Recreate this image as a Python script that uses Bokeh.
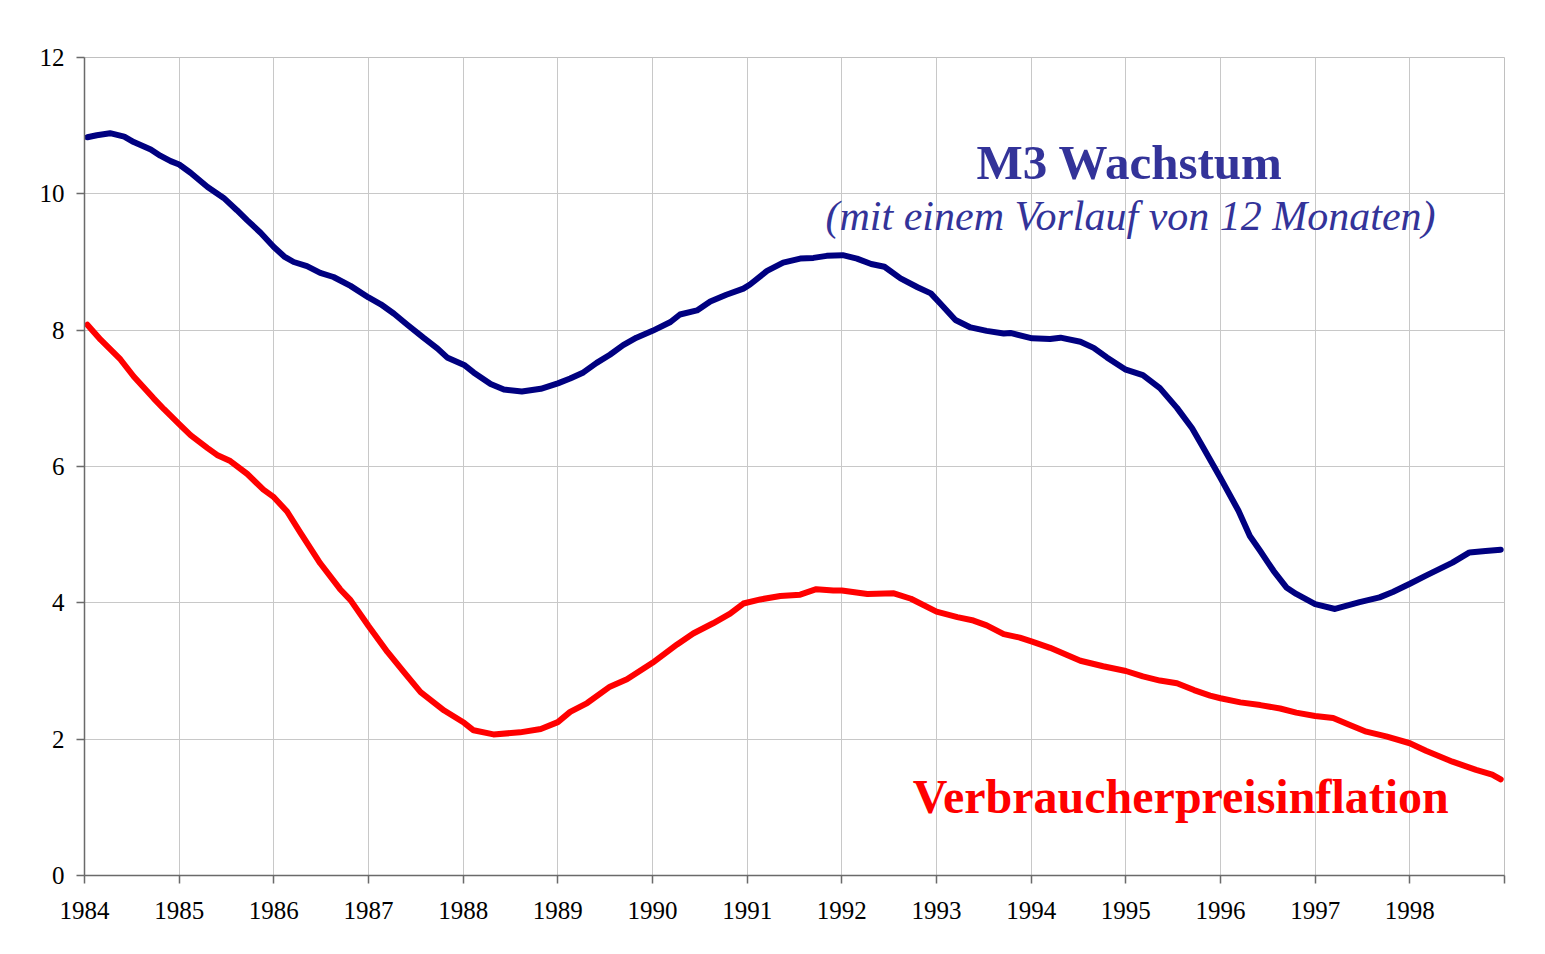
from bokeh.plotting import figure
from bokeh.models import Range1d, FixedTicker, Label
from bokeh.embed import file_html
from bokeh.resources import INLINE

# --- data ---
m3_years = [1984.03, 1984.13, 1984.27, 1984.42, 1984.52, 1984.70, 1984.80, 1984.91,
            1985.00, 1985.12, 1985.30, 1985.47, 1985.61, 1985.72, 1985.86,
            1986.00, 1986.11, 1986.21, 1986.35, 1986.49, 1986.63, 1986.81,
            1987.00, 1987.13, 1987.27, 1987.41, 1987.58, 1987.73, 1987.83,
            1988.01, 1988.11, 1988.29, 1988.43, 1988.62, 1988.82,
            1989.00, 1989.13, 1989.27, 1989.41, 1989.55, 1989.69, 1989.83,
            1990.00, 1990.19, 1990.29, 1990.47, 1990.61, 1990.78, 1990.96,
            1991.03, 1991.21, 1991.38, 1991.56, 1991.70, 1991.84,
            1992.01, 1992.16, 1992.31, 1992.45, 1992.62, 1992.80, 1992.94,
            1993.04, 1993.20, 1993.36, 1993.53, 1993.71, 1993.78,
            1994.01, 1994.20, 1994.31, 1994.52, 1994.66, 1994.80,
            1995.00, 1995.18, 1995.36, 1995.54, 1995.70, 1995.82,
            1996.00, 1996.19, 1996.31, 1996.42, 1996.56, 1996.70, 1996.80,
            1997.00, 1997.21, 1997.47, 1997.68, 1997.82,
            1998.00, 1998.17, 1998.45, 1998.63, 1998.80, 1998.96]
m3_values = [10.83, 10.86, 10.89, 10.84, 10.76, 10.65, 10.56, 10.48,
             10.43, 10.31, 10.10, 9.94, 9.76, 9.61, 9.43,
             9.22, 9.08, 9.00, 8.94, 8.84, 8.78, 8.65,
             8.48, 8.38, 8.24, 8.08, 7.89, 7.73, 7.60,
             7.49, 7.38, 7.21, 7.13, 7.10, 7.14,
             7.22, 7.29, 7.38, 7.52, 7.64, 7.78, 7.89,
             7.99, 8.12, 8.23, 8.29, 8.42, 8.52, 8.61,
             8.67, 8.87, 8.99, 9.05, 9.06, 9.09,
             9.10, 9.05, 8.97, 8.93, 8.76, 8.63, 8.54,
             8.39, 8.15, 8.04, 7.99, 7.95, 7.96,
             7.88, 7.87, 7.89, 7.83, 7.74, 7.60,
             7.42, 7.34, 7.15, 6.86, 6.56, 6.27,
             5.83, 5.35, 4.98, 4.76, 4.47, 4.22, 4.13,
             3.98, 3.91, 4.01, 4.08, 4.16,
             4.28, 4.40, 4.59, 4.74, 4.76, 4.78]

cpi_years = [1984.03, 1984.17, 1984.38, 1984.52, 1984.73, 1984.84,
             1985.00, 1985.12, 1985.30, 1985.40, 1985.54, 1985.72, 1985.89,
             1986.00, 1986.14, 1986.28, 1986.49, 1986.70, 1986.81,
             1987.00, 1987.20, 1987.37, 1987.55, 1987.80,
             1988.01, 1988.11, 1988.32, 1988.60, 1988.82,
             1989.00, 1989.13, 1989.31, 1989.55, 1989.73,
             1990.00, 1990.26, 1990.43, 1990.64, 1990.82, 1990.96,
             1991.14, 1991.35, 1991.56, 1991.73, 1991.91,
             1992.00, 1992.27, 1992.55, 1992.73,
             1993.00, 1993.22, 1993.39, 1993.53, 1993.71, 1993.88,
             1994.01, 1994.20, 1994.52, 1994.76,
             1995.00, 1995.18, 1995.36, 1995.54, 1995.72, 1995.89,
             1996.00, 1996.21, 1996.42, 1996.63, 1996.80,
             1997.00, 1997.19, 1997.36, 1997.54, 1997.75,
             1998.00, 1998.17, 1998.45, 1998.70, 1998.87, 1998.96]
cpi_values = [8.08, 7.86, 7.57, 7.32, 7.00, 6.84,
              6.62, 6.46, 6.27, 6.17, 6.08, 5.89, 5.66,
              5.55, 5.34, 5.03, 4.58, 4.20, 4.04,
              3.66, 3.28, 2.99, 2.69, 2.42,
              2.24, 2.13, 2.07, 2.10, 2.15,
              2.25, 2.40, 2.53, 2.77, 2.88,
              3.12, 3.39, 3.55, 3.70, 3.84, 3.99,
              4.05, 4.10, 4.12, 4.20, 4.18,
              4.18, 4.13, 4.14, 4.06,
              3.87, 3.79, 3.74, 3.67, 3.54, 3.49,
              3.43, 3.34, 3.15, 3.07,
              3.00, 2.92, 2.86, 2.82, 2.72, 2.64,
              2.60, 2.54, 2.50, 2.45, 2.39,
              2.34, 2.31, 2.21, 2.11, 2.04,
              1.94, 1.83, 1.67, 1.55, 1.48, 1.41]

x_ticks = list(range(1984, 2000))
y_ticks = [0, 2, 4, 6, 8, 10, 12]

m3_title = "M3 Wachstum"
m3_subtitle = "(mit einem Vorlauf von 12 Monaten)"
cpi_title = "Verbraucherpreisinflation"

SERIF = "Liberation Serif"

p = figure(width=1529, height=938, output_backend="svg", toolbar_location=None,
           x_range=Range1d(1984, 1999), y_range=Range1d(0, 12),
           min_border_left=84, min_border_right=25, min_border_top=57, min_border_bottom=63,
           background_fill_color="white", border_fill_color="white")
p.outline_line_color = "#c0c0c0"
p.outline_line_width = 1

for ax in (p.xaxis[0], p.yaxis[0]):
    ax.axis_line_color = "#6a6a6a"
    ax.axis_line_width = 1.5
    ax.major_tick_line_color = "#6a6a6a"
    ax.major_tick_line_width = 1.5
    ax.major_tick_in = 0
    ax.major_tick_out = 8
    ax.minor_tick_line_color = None
    ax.major_label_text_font = SERIF
    ax.major_label_text_font_size = "25px"
    ax.major_label_text_color = "black"

p.xaxis.ticker = FixedTicker(ticks=x_ticks)
p.xaxis.major_label_overrides = {1999: ""}
p.xaxis.major_label_standoff = 18
p.yaxis.ticker = FixedTicker(ticks=y_ticks)
p.yaxis.major_label_standoff = 12

p.xgrid.ticker = FixedTicker(ticks=x_ticks)
p.ygrid.ticker = FixedTicker(ticks=y_ticks)
p.grid.grid_line_color = "#c8c8c8"
p.grid.grid_line_width = 1

p.line(m3_years, m3_values, line_color="#000080", line_width=6,
       line_join="round", line_cap="round")
p.line(cpi_years, cpi_values, line_color="#ff0000", line_width=6,
       line_join="round", line_cap="round")

p.add_layout(Label(x=1995.04, y=10.21, y_offset=17, text=m3_title, text_align="center",
                   text_baseline="alphabetic", text_font=SERIF, text_font_style="bold",
                   text_font_size="49px", text_color="#333399"))
p.add_layout(Label(x=1995.05, y=9.46, y_offset=15, text=m3_subtitle, text_align="center",
                   text_baseline="alphabetic", text_font=SERIF, text_font_style="italic",
                   text_font_size="42px", text_color="#333399"))
p.add_layout(Label(x=1995.58, y=0.91, y_offset=17, text=cpi_title, text_align="center",
                   text_baseline="alphabetic", text_font=SERIF, text_font_style="bold",
                   text_font_size="48px", text_color="#ff0000"))

open("out.html", "w").write(file_html(p, INLINE))
